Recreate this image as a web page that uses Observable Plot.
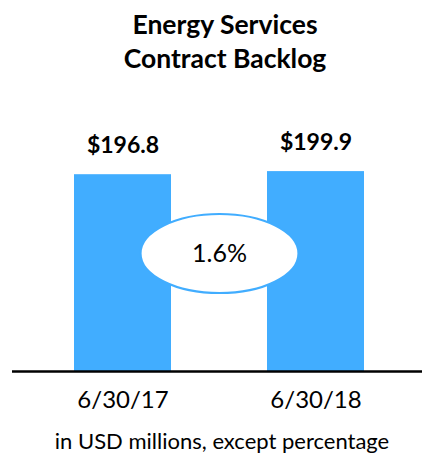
<!DOCTYPE html>
<html>
<head>
<meta charset="utf-8">
<script src="https://cdn.jsdelivr.net/npm/d3@7"></script>
<script src="https://cdn.jsdelivr.net/npm/@observablehq/plot@0.6"></script>
<style>
  html, body { margin: 0; padding: 0; background: #fff; }
  body { width: 422px; height: 455px; position: relative; overflow: hidden; font-family: Lato, "Open Sans", sans-serif; }
  #title { position: absolute; left: 14px; top: 7px; width: 422px; text-align: center; font-weight: bold; font-size: 26.5px; line-height: 34px; color: #000; }
  #chart { position: absolute; left: 0; top: 80px; }
  #caption { position: absolute; left: 11px; top: 430px; width: 422px; text-align: center; font-size: 22px; line-height: 22px; color: #000; }
</style>
</head>
<body>
<div id="title">Energy Services<br>Contract Backlog</div>
<div id="chart"></div>
<div id="caption">in USD millions, except percentage</div>
<script>
const periods = ["6/30/17", "6/30/18"];
const backlog = [196.8, 199.9];

const data = periods.map((p, i) => ({period: p, value: backlog[i]}));
const growthPct = ((backlog[1] / backlog[0] - 1) * 100).toFixed(1) + "%";

const blue = "#41ADFF";
const font = "Lato, 'Open Sans', sans-serif";

// ellipse symbol for the growth bubble
const RX = 79, RY = 39.5, K = 0.5523;
const ellipseSymbol = {
  draw(context) {
    context.moveTo(RX, 0);
    context.bezierCurveTo(RX, K * RY, K * RX, RY, 0, RY);
    context.bezierCurveTo(-K * RX, RY, -RX, K * RY, -RX, 0);
    context.bezierCurveTo(-RX, -K * RY, -K * RX, -RY, 0, -RY);
    context.bezierCurveTo(K * RX, -RY, RX, -K * RY, RX, 0);
    context.closePath();
  }
};

const chart = Plot.plot({
  width: 422,
  height: 340,
  marginTop: 41,
  marginBottom: 49,
  marginLeft: 74,
  marginRight: 58,
  style: {fontFamily: font, background: "transparent", overflow: "visible"},
  x: {domain: periods, paddingInner: 0.5, paddingOuter: 0, label: null},
  y: {domain: [0, 250], axis: null},
  marks: [
    Plot.barY(data, {x: "period", y: "value", fill: blue}),
    Plot.ruleY([0], {stroke: "#000", strokeWidth: 2.6, insetLeft: -62, insetRight: -58}),
    Plot.text(data, {
      x: "period", y: "value", text: d => "$" + d.value.toFixed(1),
      lineAnchor: "bottom", dy: -22, fontSize: 23, fontWeight: "bold", fill: "#000"
    }),
    Plot.dot([growthPct], {frameAnchor: "middle", dy: 7, symbol: ellipseSymbol, fill: "#fff", stroke: blue, strokeWidth: 2.2}),
    Plot.text([growthPct], {frameAnchor: "middle", dy: 7, text: d => d, fontSize: 25, fill: "#000", lineAnchor: "middle"}),
    Plot.axisX({tickSize: 0, tickPadding: 19, fontSize: 24, fill: "#000", label: null})
  ]
});
document.getElementById("chart").appendChild(chart);
</script>
</body>
</html>
